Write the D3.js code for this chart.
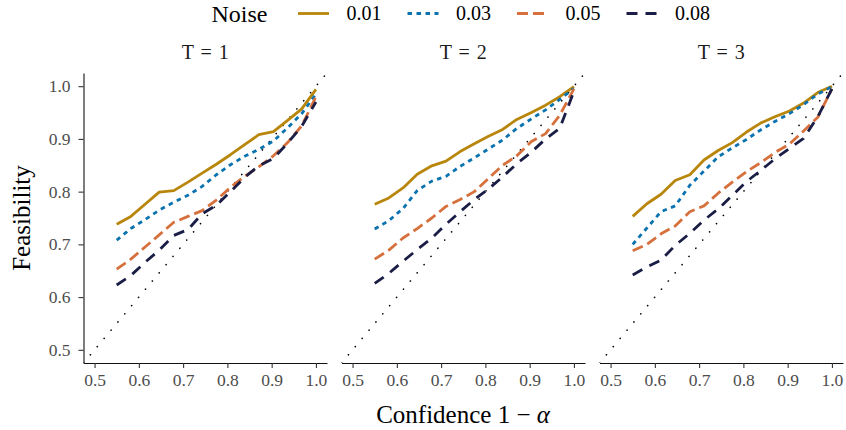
<!DOCTYPE html>
<html>
<head>
<meta charset="utf-8">
<script src="https://cdn.jsdelivr.net/npm/d3@7"></script>
<style>
  html, body { margin: 0; padding: 0; background: #fff; }
  svg { display: block; }
  text { font-family: "Liberation Serif", "DejaVu Serif", serif; }
</style>
</head>
<body>
<svg id="chart" width="846" height="430"></svg>
<script>
// Confidence levels (1 - alpha) at which feasibility was evaluated
const confidence = [0.55, 0.582, 0.614, 0.646, 0.679, 0.711, 0.743, 0.775, 0.807, 0.839, 0.871, 0.904, 0.936, 0.968, 1.0];

// Panels (horizon T) and noise levels
const horizons = ["T = 1", "T = 2", "T = 3"];
const noiseLevels = ["0.01", "0.03", "0.05", "0.08"];

// Feasibility, T = 1
const t1Noise001 = [0.738, 0.753, 0.776, 0.799, 0.802, 0.818, 0.835, 0.852, 0.870, 0.889, 0.908, 0.914, 0.935, 0.957, 0.994];
const t1Noise003 = [0.708, 0.730, 0.747, 0.765, 0.780, 0.793, 0.810, 0.832, 0.851, 0.867, 0.880, 0.896, 0.921, 0.948, 0.985];
const t1Noise005 = [0.653, 0.672, 0.695, 0.718, 0.742, 0.753, 0.764, 0.784, 0.808, 0.829, 0.847, 0.868, 0.893, 0.925, 0.980];
const t1Noise008 = [0.623, 0.641, 0.666, 0.689, 0.717, 0.728, 0.758, 0.774, 0.800, 0.827, 0.849, 0.863, 0.892, 0.924, 0.970];

// Feasibility, T = 2
const t2Noise001 = [0.776, 0.788, 0.807, 0.833, 0.849, 0.858, 0.876, 0.891, 0.905, 0.918, 0.937, 0.950, 0.964, 0.980, 0.999];
const t2Noise003 = [0.729, 0.745, 0.768, 0.802, 0.820, 0.829, 0.848, 0.864, 0.881, 0.898, 0.920, 0.938, 0.955, 0.975, 0.996];
const t2Noise005 = [0.672, 0.689, 0.712, 0.730, 0.750, 0.772, 0.785, 0.800, 0.825, 0.850, 0.868, 0.895, 0.910, 0.945, 0.995];
const t2Noise008 = [0.626, 0.645, 0.668, 0.690, 0.712, 0.738, 0.762, 0.785, 0.805, 0.828, 0.853, 0.875, 0.900, 0.920, 0.990];

// Feasibility, T = 3
const t3Noise001 = [0.753, 0.777, 0.795, 0.821, 0.832, 0.860, 0.878, 0.893, 0.913, 0.930, 0.942, 0.953, 0.968, 0.988, 1.000];
const t3Noise003 = [0.700, 0.731, 0.762, 0.773, 0.812, 0.839, 0.866, 0.883, 0.899, 0.917, 0.933, 0.948, 0.965, 0.985, 0.999];
const t3Noise005 = [0.688, 0.700, 0.720, 0.735, 0.762, 0.773, 0.797, 0.818, 0.838, 0.855, 0.874, 0.890, 0.915, 0.941, 0.995];
const t3Noise008 = [0.642, 0.657, 0.670, 0.698, 0.721, 0.746, 0.767, 0.793, 0.819, 0.840, 0.862, 0.882, 0.901, 0.942, 0.995];

// Axis ticks
const tickValues = [0.5, 0.6, 0.7, 0.8, 0.9, 1.0];

const panelSeries = [
  [t1Noise001, t1Noise003, t1Noise005, t1Noise008],
  [t2Noise001, t2Noise003, t2Noise005, t2Noise008],
  [t3Noise001, t3Noise003, t3Noise005, t3Noise008]
];

// Styling per noise level
const colors = ["#B8860B", "#0A72AE", "#D6703C", "#1A1D45"];
const dashes = [null, "4.5,4.5", "11,5", "11,8"];

const svg = d3.select("#chart");
svg.append("rect").attr("width", 846).attr("height", 430).attr("fill", "#fff");

const panelLeft = [83.5, 341.5, 599.5];
const panelWidth = 243.5;
const panelTop = 73, panelBottom = 363;
const domain = [0.475, 1.025];

const y = d3.scaleLinear().domain(domain).range([panelBottom, panelTop]);

svg.append("defs").selectAll("clipPath")
  .data(panelLeft)
  .join("clipPath")
  .attr("id", (d, i) => "clip" + i)
  .append("rect")
  .attr("x", d => d).attr("y", panelTop)
  .attr("width", panelWidth).attr("height", panelBottom - panelTop);

horizons.forEach((label, p) => {
  const left = panelLeft[p];
  const x = d3.scaleLinear().domain(domain).range([left, left + panelWidth]);
  const g = svg.append("g");

  // Reference diagonal y = x
  g.append("line")
    .attr("clip-path", `url(#clip${p})`)
    .attr("x1", x(domain[0])).attr("y1", y(domain[0]))
    .attr("x2", x(domain[1])).attr("y2", y(domain[1]))
    .attr("stroke", "#000").attr("stroke-width", 1.6)
    .attr("stroke-linecap", "round")
    .attr("stroke-dasharray", "0.1,10.6");

  // Feasibility curves
  const line = d3.line().x((d, i) => x(confidence[i])).y(d => y(d));
  panelSeries[p].forEach((vals, s) => {
    g.append("path")
      .datum(vals)
      .attr("d", line)
      .attr("fill", "none")
      .attr("stroke", colors[s])
      .attr("stroke-width", 2.8)
      .attr("stroke-linejoin", "round")
      .attr("stroke-dasharray", dashes[s]);
  });

  // x axis
  const xAxis = g.append("g")
    .attr("transform", `translate(0,${panelBottom})`)
    .call(d3.axisBottom(x).tickValues(tickValues).tickFormat(d3.format(".1f")).tickSizeInner(5).tickSizeOuter(0).tickPadding(4));
  xAxis.select(".domain").attr("stroke", "#111").attr("stroke-width", 1.1);
  xAxis.selectAll(".tick line").attr("stroke", "#333").attr("stroke-width", 1.1);
  xAxis.selectAll(".tick text")
    .attr("fill", "#4D4D4D").attr("font-size", 17.5)
    .attr("font-family", "Liberation Serif, serif")
    .attr("dy", "0.78em");

  // Strip label
  svg.append("text")
    .attr("x", left + panelWidth / 2).attr("y", 59)
    .attr("text-anchor", "middle")
    .attr("font-size", 20).attr("word-spacing", 2)
    .attr("fill", "#1a1a1a")
    .text(label);
});

// y axis on the first panel
const yAxis = svg.append("g")
  .attr("transform", `translate(${panelLeft[0]},0)`)
  .call(d3.axisLeft(y).tickValues(tickValues).tickFormat(d3.format(".1f")).tickSizeInner(5).tickSizeOuter(0).tickPadding(8));
yAxis.select(".domain").attr("stroke", "#111").attr("stroke-width", 1.1);
yAxis.selectAll(".tick line").attr("stroke", "#333").attr("stroke-width", 1.1);
yAxis.selectAll(".tick text")
  .attr("fill", "#4D4D4D").attr("font-size", 17.5)
  .attr("font-family", "Liberation Serif, serif");

// Axis titles
const xTitle = svg.append("text")
  .attr("x", 463).attr("y", 423)
  .attr("text-anchor", "middle")
  .attr("font-size", 25).attr("fill", "#000");
xTitle.append("tspan").text("Confidence 1 \u2212 ");
xTitle.append("tspan").attr("font-style", "italic").text("\u03b1");

svg.append("text")
  .attr("transform", "translate(30,218) rotate(-90)")
  .attr("text-anchor", "middle")
  .attr("font-size", 25).attr("fill", "#000")
  .text("Feasibility");

// Legend
const legendY = 13.5;
svg.append("text")
  .attr("x", 211.5).attr("y", legendY + 8)
  .attr("font-size", 24).attr("fill", "#000")
  .text("Noise");

const legendStart = [298, 407.5, 517, 626.5];
noiseLevels.forEach((lvl, s) => {
  const kx = legendStart[s];
  svg.append("line")
    .attr("x1", kx).attr("x2", kx + 31)
    .attr("y1", legendY).attr("y2", legendY)
    .attr("stroke", colors[s]).attr("stroke-width", 2.8)
    .attr("stroke-dasharray", dashes[s]);
  svg.append("text")
    .attr("x", kx + 48.5).attr("y", legendY + 6.8)
    .attr("font-size", 20).attr("fill", "#000")
    .text(lvl);
});
</script>
</body>
</html>
